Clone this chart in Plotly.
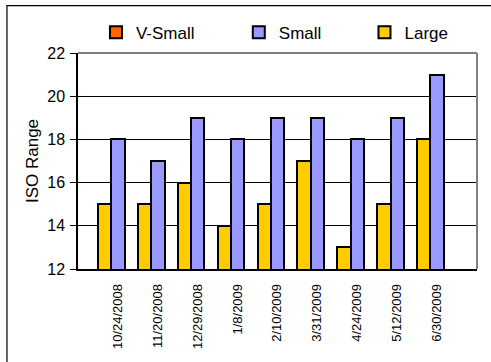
import plotly.graph_objects as go

# Sample dates and ISO range per lens class
dates = ["10/24/2008", "11/20/2008", "12/29/2008", "1/8/2009", "2/10/2009",
         "3/31/2009", "4/24/2009", "5/12/2009", "6/30/2009"]
v_small = [None, None, None, None, None, None, None, None, None]
small = [18, 17, 19, 18, 19, 19, 18, 19, 21]
large = [15, 15, 16, 14, 15, 17, 13, 15, 18]

y_ticks = [12, 14, 16, 18, 20, 22]

FONT = "Liberation Sans, Arial, sans-serif"
edge = dict(color="black", width=2)

fig = go.Figure()
fig.add_trace(go.Bar(name="V-Small", x=dates, y=v_small, legend="legend",
                     marker=dict(color="#FF6600", line=edge)))
fig.add_trace(go.Bar(name="Large", x=dates, y=large, legend="legend3",
                     marker=dict(color="#FFCC00", line=edge)))
fig.add_trace(go.Bar(name="Small", x=dates, y=small, legend="legend2",
                     marker=dict(color="#9999FF", line=edge)))


def legend_box(x):
    # one-entry legend box laid out along the top edge
    return dict(orientation="h", x=x, xanchor="left", y=1.094, yanchor="middle",
                font=dict(size=17, family=FONT, color="black"),
                bgcolor="rgba(0,0,0,0)")


fig.update_layout(
    width=491, height=362,
    margin=dict(l=78, r=14, t=53, b=93),
    paper_bgcolor="white", plot_bgcolor="white",
    font=dict(family=FONT, color="black"),
    barmode="group", bargap=0, bargroupgap=0,
    showlegend=True,
    legend=legend_box(0.045),
    legend2=legend_box(0.403),
    legend3=legend_box(0.718),
    xaxis=dict(type="category", range=[-0.671, 9.335], showgrid=False,
               showline=True, linecolor="black", linewidth=1.5,
               ticks="", tickangle=-90, tickfont=dict(size=13),
               ticklabelshift=13, ticklabelstandoff=8),
    yaxis=dict(range=[12, 22], tickvals=y_ticks, showgrid=True,
               gridcolor="black", gridwidth=1, zeroline=False,
               showline=True, linecolor="black", linewidth=1.5,
               ticks="outside", ticklen=6, tickcolor="black",
               tickfont=dict(size=16), ticklabelstandoff=2,
               title=dict(text="ISO Range", font=dict(size=17), standoff=4)),
    shapes=[
        # grey frame on the top and right sides of the plot area
        dict(type="line", xref="paper", yref="paper", x0=0, x1=1, y0=1, y1=1,
             line=dict(color="#808080", width=2)),
        dict(type="line", xref="paper", yref="paper", x0=1, x1=1, y0=0, y1=1,
             line=dict(color="#808080", width=2)),
        # outer chart border
        dict(type="rect", xref="paper", yref="paper", x0=-0.178, x1=1.2,
             y0=-0.6, y1=1.219, line=dict(color="black", width=1.2),
             fillcolor="rgba(0,0,0,0)"),
    ],
)

fig.write_html("out.html")
